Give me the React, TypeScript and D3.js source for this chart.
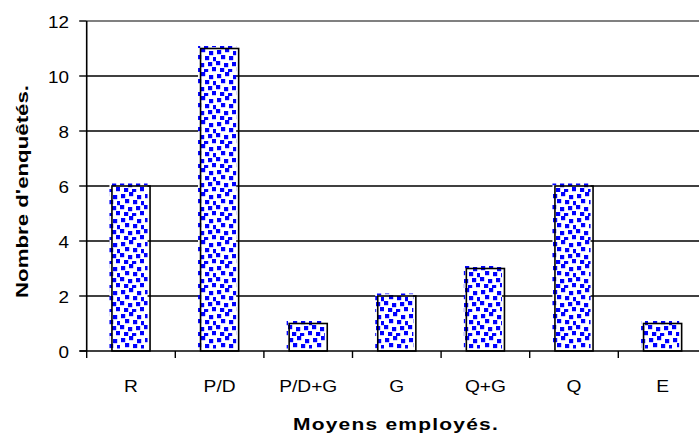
import React from "react";
import * as d3 from "d3";

const categories = ["R", "P/D", "P/D+G", "G", "Q+G", "Q", "E"];
const values = [6, 11, 1, 2, 3, 6, 1];
const yTicks = [0, 2, 4, 6, 8, 10, 12];
const xTitle = "Moyens employés.";
const yTitle = "Nombre d'enquêtés.";

const W = 699;
const H = 436;
const left = 86.7;
const band = 88.6;
const top = 21;
const bottom = 351;

export default function App() {
  const x = d3
    .scaleBand<string>()
    .domain(categories)
    .range([left, left + band * categories.length])
    .paddingInner(0)
    .paddingOuter(0);
  const y = d3.scaleLinear().domain([0, 12]).range([bottom, top]);
  const bw = x.bandwidth() * 0.43;
  const font = "'Liberation Sans', Arial, Helvetica, sans-serif";

  // irregular confetti squares within a 24x24 tile
  const dots: [number, number][] = [
    [1, 2], [9, 0], [17, 3], [5, 7], [13, 8], [21, 9],
    [0, 13], [8, 15], [16, 14], [4, 20], [12, 21], [20, 19],
  ];

  return (
    <svg
      width={W}
      height={H}
      style={{ position: "absolute", left: 0, top: 0, display: "block" }}
    >
      <defs>
        <pattern id="conf" width={24} height={24} patternUnits="userSpaceOnUse">
          <rect width={24} height={24} fill="#ffffff" />
          {dots.map(([a, b], i) => (
            <rect key={i} x={a} y={b} width={4.2} height={4.2} fill="#0000ff" />
          ))}
        </pattern>
      </defs>
      <rect width={W} height={H} fill="#fff" />
      {yTicks.map((t) =>
        t === 0 ? null : (
          <line
            key={t}
            x1={left}
            x2={W}
            y1={y(t)}
            y2={y(t)}
            stroke={t === 12 ? "#808080" : "#000"}
            strokeWidth={t === 12 ? 1.8 : 1.3}
          />
        )
      )}
      {categories.map((c, i) => {
        const bx = (x(c) as number) + (x.bandwidth() - bw) / 2;
        const by = y(values[i]);
        const h = y(0) - by;
        return (
          <g key={c}>
            <rect x={bx - 2.5} y={by - 2.5} width={bw} height={h} fill="url(#conf)" />
            <rect x={bx} y={by} width={bw} height={h} fill="none" stroke="#000" strokeWidth={1.6} />
          </g>
        );
      })}
      <line x1={left} x2={left} y1={top} y2={bottom} stroke="#000" strokeWidth={1.6} />
      {yTicks.map((t) => (
        <g key={t}>
          <line x1={left - 7.5} x2={left} y1={y(t)} y2={y(t)} stroke="#000" strokeWidth={1.4} />
          <text
            transform={`translate(69,${y(t) + 6.5}) scale(1.18,1)`}
            textAnchor="end"
            fontFamily={font}
            fontSize={16}
            fill="#000"
          >
            {t}
          </text>
        </g>
      ))}
      <line x1={left - 7} x2={W} y1={bottom} y2={bottom} stroke="#000" strokeWidth={1.6} />
      {categories.map((c, i) => (
        <line
          key={"t" + i}
          x1={x(c) as number}
          x2={x(c) as number}
          y1={bottom}
          y2={bottom + 7}
          stroke="#000"
          strokeWidth={1.4}
        />
      ))}
      {categories.map((c) => (
        <text
          key={"l" + c}
          transform={`translate(${(x(c) as number) + x.bandwidth() / 2},392) scale(1.2,1)`}
          textAnchor="middle"
          fontFamily={font}
          fontSize={16}
          fill="#000"
        >
          {c}
        </text>
      ))}
      <text
        x={396}
        y={430}
        textAnchor="middle"
        fontFamily={font}
        fontSize={17}
        fontWeight="bold"
        letterSpacing={1}
        textLength={206}
        lengthAdjust="spacingAndGlyphs"
      >
        {xTitle}
      </text>
      <text
        transform="translate(28,191.5) rotate(-90)"
        textAnchor="middle"
        fontFamily={font}
        fontSize={17}
        fontWeight="bold"
        textLength={213}
        lengthAdjust="spacingAndGlyphs"
      >
        {yTitle}
      </text>
    </svg>
  );
}
